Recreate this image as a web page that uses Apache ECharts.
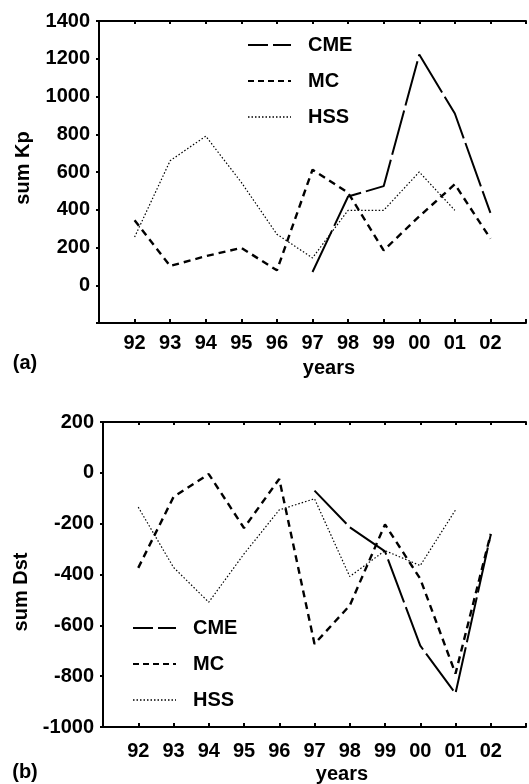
<!DOCTYPE html>
<html>
<head>
<meta charset="utf-8">
<script src="https://cdn.jsdelivr.net/npm/echarts@6/dist/echarts.min.js"></script>
<style>
  html, body { margin: 0; padding: 0; background: #fff; }
  #chart { width: 529px; height: 784px; }
</style>
</head>
<body>
<div id="chart"></div>
<script>
// 年份标签 (1992-2002)
const years = ['92', '93', '94', '95', '96', '97', '98', '99', '00', '01', '02'];

// (a) sum Kp
const kpCME = [null, null, null, null, null, 70, 470, 525, 1222, 910, 383];
const kpMC = [344, 102, 154, 198, 79, 612, 490, 185, 365, 535, 247];
const kpHSS = [255, 660, 790, 545, 270, 145, 397, 397, 600, 397, null];

// (b) sum Dst
const dstCME = [null, null, null, null, null, -70, -214, -309, -680, -868, -243];
const dstMC = [-374, -95, -5, -217, -24, -673, -522, -203, -417, -790, -240];
const dstHSS = [-135, -372, -509, -319, -146, -102, -408, -306, -365, -146, null];

const kpTicks = [-200, 1400, 200];   // min, max, interval
const dstTicks = [-1000, 200, 200];

const FONT = '"Liberation Sans", Arial, sans-serif';

function pairs(arr) {
  const out = [];
  arr.forEach((v, i) => { if (v != null) out.push([i, v]); });
  return out;
}

const styles = {
  CME: { width: 2, type: [46, 5], color: '#000' },
  MC: { width: 2.4, type: [7, 5], color: '#000' },
  HSS: { width: 1.2, type: [1.5, 2], color: '#000' },
};

function xAxes(gridIndex, margin) {
  const base = {
    gridIndex, type: 'value', min: -1, max: 11, interval: 1,
    splitLine: { show: false },
    axisLine: { onZero: false, lineStyle: { color: '#000', width: 2 } },
  };
  return [
    Object.assign({}, base, {
      position: 'bottom',
      axisTick: { inside: true, length: 4, lineStyle: { color: '#000', width: 2 } },
      axisLabel: {
        margin, color: '#000', fontFamily: FONT, fontWeight: 'bold', fontSize: 20,
        formatter: (v) => (v >= 0 && v < years.length ? years[v] : ''),
      },
    }),
    Object.assign({}, base, {
      position: 'top',
      axisTick: { inside: true, length: 3, lineStyle: { color: '#000', width: 2 } },
      axisLabel: { show: false },
    }),
  ];
}

function yAxis(gridIndex, t) {
  return {
    gridIndex, type: 'value', min: t[0], max: t[1], interval: t[2],
    splitLine: { show: false },
    axisLine: { show: true, onZero: false, lineStyle: { color: '#000', width: 2 } },
    axisTick: { show: true, inside: false, length: 3, lineStyle: { color: '#000', width: 2 } },
    axisLabel: {
      margin: 9, color: '#000', fontFamily: FONT, fontWeight: 'bold', fontSize: 20,
      formatter: (v) => (gridIndex === 0 && v === -200 ? '' : String(v)),
    },
  };
}

function line(name, data, xi, yi) {
  return {
    name, type: 'line', xAxisIndex: xi, yAxisIndex: yi,
    data: pairs(data), symbol: 'none', lineStyle: styles[name],
    itemStyle: { color: '#000' },
    silent: true, animation: false,
  };
}

function legend(left, top, gap) {
  return {
    orient: 'vertical', left, top, itemWidth: 43, itemHeight: 14, itemGap: gap,
    data: [
      { name: 'CME', lineStyle: { type: [20, 5], width: 2 } },
      { name: 'MC', lineStyle: { type: [6, 4], width: 2 } },
      { name: 'HSS', lineStyle: { type: [1.5, 2], width: 1.4 } },
    ],
    itemStyle: { opacity: 0 },
    textStyle: { color: '#000', fontFamily: FONT, fontWeight: 'bold', fontSize: 20, padding: [0, 0, 0, 12] },
  };
}

function text(x, y, str, rotate) {
  return {
    type: 'text', x, y, rotation: rotate ? Math.PI / 2 : 0,
    style: {
      text: str, fill: '#000', font: 'bold 20px ' + FONT,
      align: 'center', verticalAlign: 'middle',
    },
  };
}

const chart = echarts.init(document.getElementById('chart'), null, { renderer: 'canvas' });

chart.setOption({
  backgroundColor: '#fff',
  animation: false,
  grid: [
    { left: 99, top: 21, right: 0, height: 302 },
    { left: 103, top: 422, right: -6, height: 305 },
  ],
  xAxis: [...xAxes(0, 10), ...xAxes(1, 14)],
  yAxis: [yAxis(0, kpTicks), yAxis(1, dstTicks)],
  legend: [legend(242, 30, 16), legend(127, 613, 16)],
  series: [
    line('CME', kpCME, 0, 0),
    line('MC', kpMC, 0, 0),
    line('HSS', kpHSS, 0, 0),
    line('CME', dstCME, 2, 1),
    line('MC', dstMC, 2, 1),
    line('HSS', dstHSS, 2, 1),
  ],
  graphic: [
    text(23, 168, 'sum Kp', true),
    text(21, 592, 'sum Dst', true),
    text(329, 368, 'years'),
    text(342, 774, 'years'),
    text(25, 363, '(a)'),
    text(25, 772, '(b)'),
  ],
});
</script>
</body>
</html>
